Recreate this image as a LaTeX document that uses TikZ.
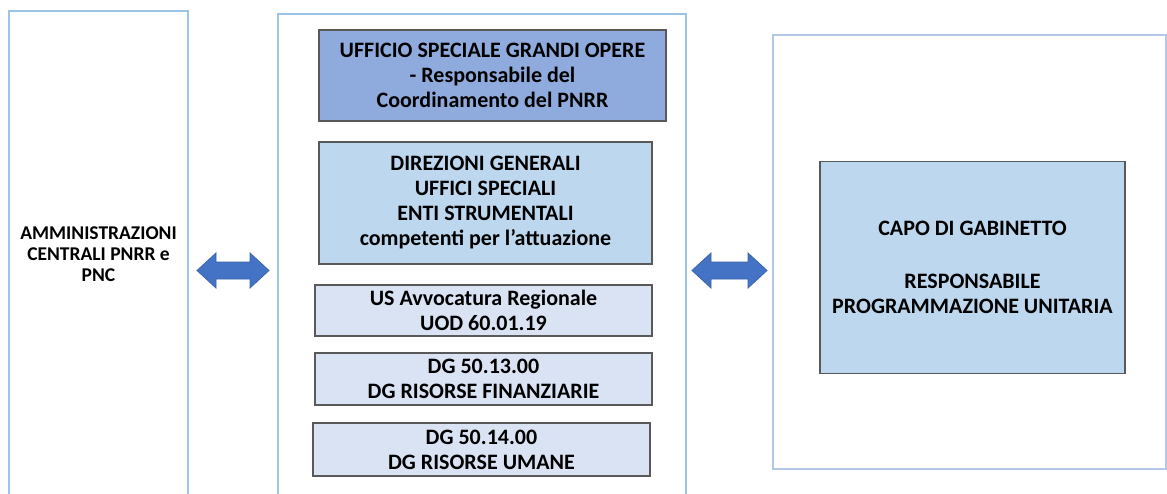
\documentclass[tikz,border=0pt]{standalone}
\usepackage{fontspec}
\setmainfont{Carlito}
\usetikzlibrary{positioning}
\definecolor{outerline}{HTML}{9DC3E6}
\definecolor{outerlinetwo}{HTML}{B4C7E7}
\definecolor{innerline}{HTML}{595959}
\definecolor{topfill}{HTML}{8FAADC}
\definecolor{midfill}{HTML}{BDD7EE}
\definecolor{lightfill}{HTML}{DAE3F3}
\definecolor{arrowfill}{HTML}{4472C4}
\definecolor{arrowline}{HTML}{3A63AE}
\tikzset{
  outerbox/.style={draw=outerline,line width=0.8pt},
  unitbox/.style={draw=innerline,line width=0.6pt,align=center,inner sep=0pt,
    font=\bfseries\fontsize{11}{12.5}\selectfont},
  blockarrow/.style={fill=arrowfill,draw=arrowline,line width=0.4pt}
}
\newcommand{\dblarrow}[3]{%
  \draw[blockarrow] (#1,#3) -- ++(19,-17.5) -- ++(0,9) -- (#2-19,#3-8.5)
    -- ++(0,-9) -- (#2,#3) -- ++(-19,17.5) -- ++(0,-9) -- (#1+19,#3+8.5)
    -- ++(0,9) -- cycle;}
\begin{document}
\begin{tikzpicture}[x=0.5pt,y=-0.5pt]
  \useasboundingbox (0,0) rectangle (1167,493);
  \clip (0,0) rectangle (1167,493);
  % outer frames
  \draw[outerbox] (9,11) rectangle (188,500);
  \draw[outerbox] (278,14) rectangle (686,500);
  \draw[outerbox,draw=outerlinetwo] (773,35) rectangle (1166,469);
  % left side
  \node[align=center,font=\bfseries\fontsize{9.75}{10.5}\selectfont] (amm) at (98.5,254)
    {AMMINISTRAZIONI\\CENTRALI PNRR e\\PNC};
  % centre column
  \node[unitbox,fill=topfill,minimum width=173.5pt,minimum height=45.5pt] (usgo) at (492.5,75.5)
    {UFFICIO SPECIALE GRANDI OPERE\\- Responsabile del\\Coordinamento del PNRR};
  \node[unitbox,fill=midfill,minimum width=166.5pt,minimum height=61pt] (dirgen) at (485.5,203)
    {DIREZIONI GENERALI\\UFFICI SPECIALI\\ENTI STRUMENTALI\\competenti per l’attuazione};
  \node[unitbox,fill=lightfill,minimum width=168.5pt,minimum height=25.5pt] (avv) at (483.5,310.5)
    {US Avvocatura Regionale\\UOD 60.01.19};
  \node[unitbox,fill=lightfill,minimum width=168.5pt,minimum height=26pt] (dgfin) at (483.5,379)
    {DG 50.13.00\\DG RISORSE FINANZIARIE};
  \node[unitbox,fill=lightfill,minimum width=168.5pt,minimum height=26.5pt] (dgum) at (481.5,449.5)
    {DG 50.14.00\\DG RISORSE UMANE};
  % right side
  \node[unitbox,fill=midfill,minimum width=152.5pt,minimum height=106pt] (capo) at (972.5,267.5)
    {CAPO DI GABINETTO\\[14pt]RESPONSABILE\\PROGRAMMAZIONE UNITARIA};
  % arrows
  \dblarrow{197}{269}{270.5}
  \dblarrow{692}{767}{270.5}
\end{tikzpicture}
\end{document}
